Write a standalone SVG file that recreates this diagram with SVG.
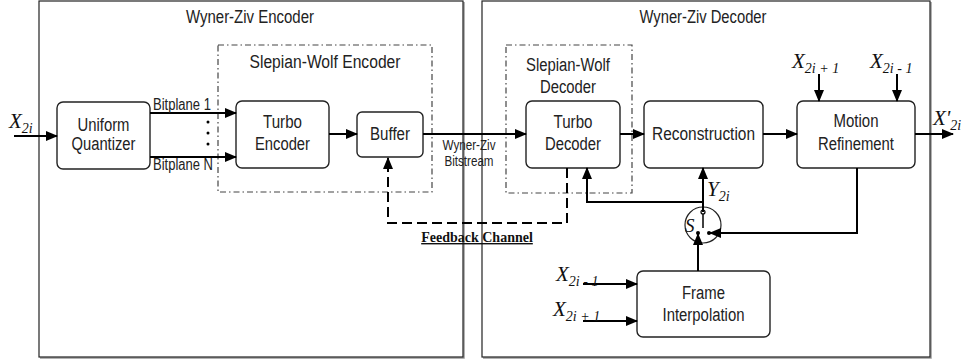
<svg xmlns="http://www.w3.org/2000/svg" width="964" height="362" viewBox="0 0 964 362">
<defs>
<marker id="ah" markerWidth="12" markerHeight="10" refX="11" refY="5" orient="auto" markerUnits="userSpaceOnUse">
<path d="M0,0 L12,5 L0,10 Z" fill="#000"/>
</marker>
<style>
.lbl{font-family:"Liberation Sans Narrow","Liberation Sans",Arial,sans-serif;font-size:18px;fill:#222;text-anchor:middle}
.sm{font-family:"Liberation Sans Narrow","Liberation Sans",Arial,sans-serif;font-size:16px;fill:#222}
.math{font-family:"Liberation Serif","Times New Roman",serif;font-style:italic;font-size:21px;fill:#111}
.sub{font-size:14px}
.box{fill:#fff;stroke:#222;stroke-width:1.4}
.outer{fill:none;stroke:#222;stroke-width:1.2}
.shadow{fill:none;stroke:#999;stroke-width:1.5}
.sw{fill:none;stroke:#444;stroke-width:1.2;stroke-dasharray:6 3 1.5 3}
.arr{fill:none;stroke:#000;stroke-width:2;marker-end:url(#ah)}
.fb{fill:none;stroke:#000;stroke-width:2;stroke-dasharray:10 5}
</style>
</defs>

<g id="wz-encoder">
<polyline class="shadow" points="464,2 464,358 40,358"/>
<rect class="outer" x="39" y="1" width="424" height="356"/>
<text class="lbl" x="250" y="23" textLength="128" lengthAdjust="spacingAndGlyphs">Wyner-Ziv Encoder</text>
</g>
<g id="wz-decoder">
<polyline class="shadow" points="931,2 931,358 483,358"/>
<rect class="outer" x="482" y="1" width="448" height="356"/>
<text class="lbl" x="703" y="23" textLength="127" lengthAdjust="spacingAndGlyphs">Wyner-Ziv Decoder</text>
</g>

<g id="sw-encoder">
<rect class="sw" x="218" y="45" width="214" height="147"/>
<text class="lbl" x="325" y="68" textLength="151" lengthAdjust="spacingAndGlyphs">Slepian-Wolf Encoder</text>
</g>
<g id="sw-decoder">
<rect class="sw" x="506" y="45" width="126" height="148"/>
<text class="lbl" x="568" y="71" textLength="84" lengthAdjust="spacingAndGlyphs">Slepian-Wolf</text>
<text class="lbl" x="568" y="93" textLength="56" lengthAdjust="spacingAndGlyphs">Decoder</text>
</g>

<g id="quantizer">
<rect class="box" x="57" y="102" width="93" height="67" rx="6"/>
<text class="lbl" x="103.5" y="131" textLength="52" lengthAdjust="spacingAndGlyphs">Uniform</text>
<text class="lbl" x="103.5" y="150" textLength="64" lengthAdjust="spacingAndGlyphs">Quantizer</text>
</g>
<g id="turbo-encoder">
<rect class="box" x="236" y="101" width="93" height="67" rx="6"/>
<text class="lbl" x="282.5" y="128" textLength="39" lengthAdjust="spacingAndGlyphs">Turbo</text>
<text class="lbl" x="282.5" y="150" textLength="55" lengthAdjust="spacingAndGlyphs">Encoder</text>
</g>
<g id="buffer">
<rect class="box" x="357" y="112" width="66" height="45" rx="5"/>
<text class="lbl" x="390" y="140" textLength="40" lengthAdjust="spacingAndGlyphs">Buffer</text>
</g>
<g id="turbo-decoder">
<rect class="box" x="526" y="101" width="94" height="67" rx="6"/>
<text class="lbl" x="573" y="128" textLength="39" lengthAdjust="spacingAndGlyphs">Turbo</text>
<text class="lbl" x="573" y="150" textLength="56" lengthAdjust="spacingAndGlyphs">Decoder</text>
</g>
<g id="reconstruction">
<rect class="box" x="644" y="101" width="119" height="67" rx="6"/>
<text class="lbl" x="703.5" y="140" textLength="103" lengthAdjust="spacingAndGlyphs">Reconstruction</text>
</g>
<g id="motion-refinement">
<rect class="box" x="797" y="101" width="118" height="67" rx="6"/>
<text class="lbl" x="856" y="127" textLength="45" lengthAdjust="spacingAndGlyphs">Motion</text>
<text class="lbl" x="856" y="150" textLength="76" lengthAdjust="spacingAndGlyphs">Refinement</text>
</g>
<g id="frame-interpolation">
<rect class="box" x="637" y="271" width="133" height="66" rx="6"/>
<text class="lbl" x="703.5" y="299" textLength="43" lengthAdjust="spacingAndGlyphs">Frame</text>
<text class="lbl" x="703.5" y="321" textLength="82" lengthAdjust="spacingAndGlyphs">Interpolation</text>
</g>
<g id="switch">
<circle cx="703" cy="225" r="18" fill="#fff" stroke="#222" stroke-width="1.2"/>
<line x1="703" y1="212" x2="703" y2="228" stroke="#000" stroke-width="1.5"/>
<circle cx="703" cy="212" r="2" fill="#fff" stroke="#000" stroke-width="1.2"/>
<circle cx="698" cy="233" r="2" fill="#000"/>
<circle cx="709" cy="233" r="2" fill="#000"/>
<text class="math" x="685" y="232" style="font-size:19px">S</text>
</g>

<g id="connectors">
<line class="arr" x1="14" y1="136" x2="57" y2="136"/>
<line class="arr" x1="150" y1="113" x2="236" y2="113"/>
<line class="arr" x1="150" y1="157" x2="236" y2="157"/>
<circle cx="208" cy="122" r="1.5" fill="#000"/>
<circle cx="208" cy="133" r="1.5" fill="#000"/>
<circle cx="208" cy="144" r="1.5" fill="#000"/>
<line class="arr" x1="329" y1="134" x2="357" y2="134"/>
<line class="arr" x1="423" y1="134" x2="526" y2="134"/>
<line class="arr" x1="620" y1="134" x2="644" y2="134"/>
<line class="arr" x1="763" y1="134" x2="797" y2="134"/>
<line class="arr" x1="915" y1="134" x2="953" y2="134"/>
<line class="arr" x1="819" y1="74" x2="819" y2="101"/>
<line class="arr" x1="897" y1="74" x2="897" y2="101"/>
<polyline class="fb" points="567,168 567,223 388,223 388,166"/>
<line class="arr" x1="388" y1="172" x2="388" y2="158"/>
<line class="arr" x1="703" y1="212" x2="703" y2="168"/>
<polyline class="arr" points="703,202 587,202 587,168"/>
<line class="arr" x1="698" y1="271" x2="698" y2="234"/>
<polyline class="arr" points="857,168 857,233 710,233"/>
<line class="arr" x1="583" y1="284" x2="637" y2="284"/>
<line class="arr" x1="583" y1="321" x2="637" y2="321"/>
</g>

<g id="labels">
<text class="sm" x="153" y="110" textLength="58" lengthAdjust="spacingAndGlyphs">Bitplane 1</text>
<text class="sm" x="153" y="170" textLength="60" lengthAdjust="spacingAndGlyphs">Bitplane N</text>
<text class="sm" x="469" y="150" text-anchor="middle" style="font-size:14px" textLength="53" lengthAdjust="spacingAndGlyphs">Wyner-Ziv</text>
<text class="sm" x="469" y="166" text-anchor="middle" style="font-size:14px" textLength="49" lengthAdjust="spacingAndGlyphs">Bitstream</text>
<text x="477" y="242" text-anchor="middle" text-decoration="underline" style="font-family:'Liberation Serif','Times New Roman',serif;font-weight:bold;font-size:14px;fill:#111">Feedback Channel</text>
<text class="math" x="9" y="128">X<tspan class="sub" dy="5">2i</tspan></text>
<text class="math" x="933" y="125">X'<tspan class="sub" dy="5">2i</tspan></text>
<text class="math" x="792" y="68">X<tspan class="sub" dy="5">2i + 1</tspan></text>
<text class="math" x="870" y="68">X<tspan class="sub" dy="5">2i - 1</tspan></text>
<text class="math" x="707" y="196">Y<tspan class="sub" dy="5">2i</tspan></text>
<text class="math" x="556" y="281">X<tspan class="sub" dy="5">2i - 1</tspan></text>
<text class="math" x="553" y="316">X<tspan class="sub" dy="5">2i + 1</tspan></text>
</g>
</svg>
